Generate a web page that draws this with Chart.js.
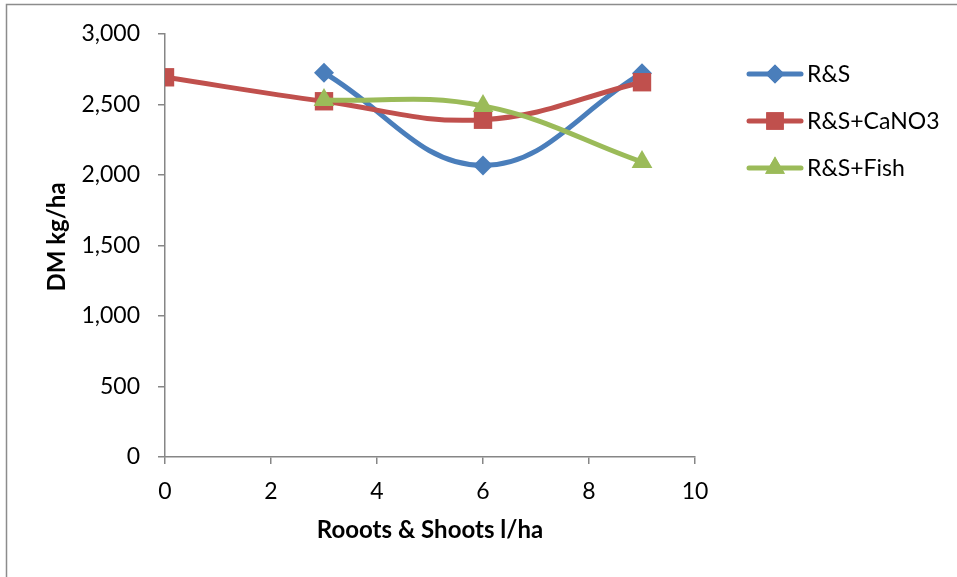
<!DOCTYPE html>
<html>
<head>
<meta charset="utf-8">
<script src="https://cdn.jsdelivr.net/npm/chart.js@4.4.1/dist/chart.umd.min.js"></script>
<style>
  body { margin: 0; background: #fff; }
  canvas { display: block; }
</style>
</head>
<body>
<canvas id="dmChart" width="957" height="577"></canvas>
<script>
// date
var xValues = [0, 3, 6, 9]
var rsValues = [null, 2725, 2068, 2722]
var cano3Values = [2693, 2523, 2392, 2658]
var fishValues = [null, 2532, 2490, 2092]

var seriesNames = ["R&S", "R&S+CaNO3", "R&S+Fish"]
var xTitle = "Rooots & Shoots l/ha"
var yTitle = "DM kg/ha"

var axisColor = "#868686"
var fontName = "Lato, 'Open Sans', sans-serif"

function toPoints(values) {
  var pts = []
  for (var i = 0; i < values.length; i++) {
    if (values[i] !== null) pts.push({ x: xValues[i], y: values[i] })
  }
  return pts
}

var datasets = [
  {
    label: seriesNames[0],
    data: toPoints(rsValues),
    borderColor: "#4A7EBB",
    backgroundColor: "#4A7EBB",
    pointStyle: "rectRot",
    pointRadius: 10,
    order: 2,
  },
  {
    label: seriesNames[1],
    data: toPoints(cano3Values),
    borderColor: "#C0504D",
    backgroundColor: "#C0504D",
    pointStyle: "rect",
    pointRadius: 13,
    order: 1,
  },
  {
    label: seriesNames[2],
    data: toPoints(fishValues),
    borderColor: "#9BBB59",
    backgroundColor: "#9BBB59",
    pointStyle: "triangle",
    pointRadius: 12,
    order: 0,
  },
]
datasets.forEach(function (d) {
  d.showLine = true
  d.borderWidth = 5
  d.tension = 0.4
  d.pointBorderWidth = 0
  d.pointHoverRadius = d.pointRadius
})

// chenar, titlul axei Y si legenda desenate manual
var framePlugin = {
  id: "frame",
  beforeDraw: function (chart) {
    var ctx = chart.ctx
    ctx.save()
    ctx.strokeStyle = "#8c8c8c"
    ctx.lineWidth = 1.5
    ctx.beginPath()
    ctx.moveTo(6.5, 600)
    ctx.lineTo(6.5, 4.5)
    ctx.lineTo(960, 4.5)
    ctx.stroke()
    ctx.restore()
  },
  afterDraw: function (chart) {
    var ctx = chart.ctx
    ctx.save()
    ctx.translate(57, 237)
    ctx.rotate(-Math.PI / 2)
    ctx.fillStyle = "#000"
    ctx.font = "bold 24px " + fontName
    ctx.textAlign = "center"
    ctx.textBaseline = "middle"
    ctx.fillText(yTitle, 0, 0)
    ctx.restore()

    ctx.save()
    for (var i = 0; i < datasets.length; i++) {
      var d = datasets[i]
      var y = 74 + i * 47
      ctx.strokeStyle = d.borderColor
      ctx.lineWidth = 5
      ctx.lineCap = "round"
      ctx.beginPath()
      ctx.moveTo(749, y)
      ctx.lineTo(801, y)
      ctx.stroke()
      ctx.fillStyle = d.backgroundColor
      Chart.helpers.drawPoint(ctx, { pointStyle: d.pointStyle, radius: d.pointRadius * 0.95, borderWidth: 0 }, 775, y)
      ctx.fill()
      ctx.fillStyle = "#000"
      ctx.font = "23px " + fontName
      ctx.textAlign = "left"
      ctx.textBaseline = "middle"
      ctx.fillText(d.label, 807, y + 1)
    }
    ctx.restore()
  },
}

new Chart(document.getElementById("dmChart"), {
  type: "scatter",
  data: { datasets: datasets },
  plugins: [framePlugin],
  options: {
    responsive: false,
    animation: false,
    devicePixelRatio: 1,
    layout: { padding: { left: 0, right: 262, top: 34, bottom: 32 } },
    plugins: {
      legend: { display: false },
      tooltip: { enabled: false },
    },
    scales: {
      x: {
        type: "linear",
        min: 0,
        max: 10,
        afterFit: function (scale) { scale.height = 88 },
        ticks: {
          stepSize: 2,
          color: "#000",
          padding: 14,
          font: { family: fontName, size: 23 },
        },
        grid: { drawOnChartArea: false, drawTicks: true, tickLength: 7, color: axisColor, lineWidth: 1.5 },
        border: { color: axisColor, width: 1.5 },
        title: {
          display: true,
          text: xTitle,
          color: "#000",
          padding: 0,
          font: { family: fontName, size: 24, weight: "bold" },
        },
      },
      y: {
        min: 0,
        max: 3000,
        afterFit: function (scale) { scale.width = 165 },
        ticks: {
          stepSize: 500,
          color: "#000",
          padding: 18,
          font: { family: fontName, size: 23 },
          callback: function (v) { return v.toLocaleString("en-US") },
        },
        grid: { drawOnChartArea: false, drawTicks: true, tickLength: 7, color: axisColor, lineWidth: 1.5 },
        border: { color: axisColor, width: 1.5 },
      },
    },
  },
})
</script>
</body>
</html>
